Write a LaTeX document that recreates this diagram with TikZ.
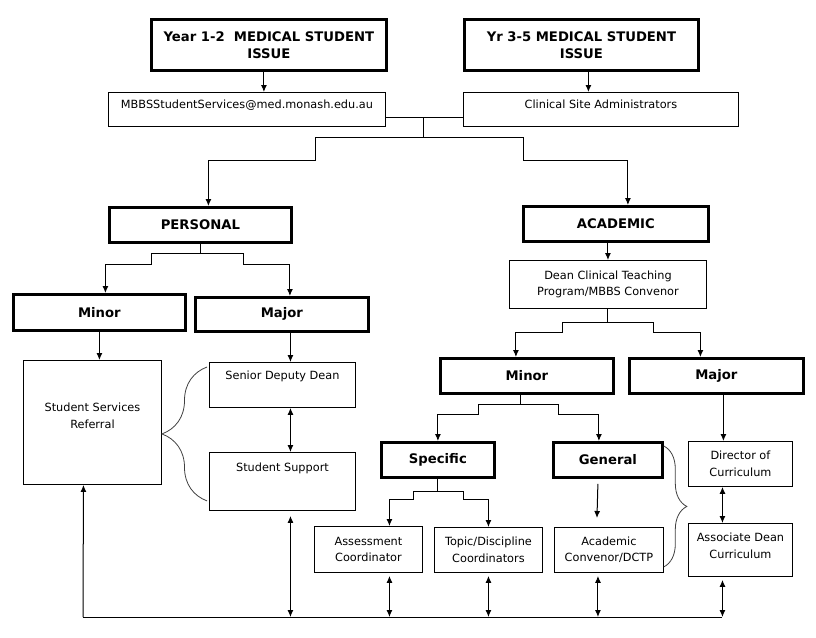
\documentclass[tikz,border=0pt]{standalone}
\usepackage{fontspec}
\setmainfont{DejaVu Sans}
\usetikzlibrary{arrows.meta, positioning, calc, decorations.pathreplacing}
\tikzset{
headbox/.style={
draw=black,
line width=2.8pt,
fill=white,
anchor=north west,
align=center,
inner sep=2pt,
font=\bfseries\fontsize{13.2}{17}\selectfont
},
cell/.style={
draw=black,
line width=0.9pt,
anchor=north west,
align=center,
inner xsep=2pt,
inner ysep=3pt,
font=\fontsize{11.3}{16.5}\selectfont
},
topcell/.style 2 args={
cell,
text height=#1,
text depth=#2
},
arrow/.style={
-{Latex[length=7pt,width=6pt]},
line width=1pt
},
darrow/.style={
{Latex[length=7pt,width=6pt]}-{Latex[length=7pt,width=6pt]},
line width=1pt
},
link/.style={
line width=1pt
},
curly/.style={
decorate,
decoration={brace, amplitude=#1},
line width=0.8pt,
draw=black!75
}
}

\begin{document}
\begin{tikzpicture}[x=1pt,y=-1pt]
\useasboundingbox (0,0) rectangle (816,637);

% entry points
\node[headbox, minimum width=235pt, minimum height=51pt] (yr12) at (150,18) {Year 1-2\ \ MEDICAL STUDENT\\ISSUE};
\node[headbox, minimum width=234pt, minimum height=51pt] (yr35) at (463,18) {Yr 3-5 MEDICAL STUDENT\\ISSUE};
\node[topcell={13pt}{15pt}, minimum width=277pt] (email) at (108,92) {MBBSStudentServices@med.monash.edu.au};
\node[topcell={13pt}{15pt}, minimum width=275pt] (clinic) at (463,92) {Clinical Site Administrators};

% personal side
\node[headbox, minimum width=182pt, minimum height=35pt] (personal) at (108,206) {PERSONAL};
\node[headbox, minimum width=172pt, minimum height=36pt] (pminor) at (12,293) {Minor};
\node[headbox, minimum width=173pt, minimum height=34pt] (pmajor) at (194,296) {Major};
\node[topcell={65pt}{53pt}, minimum width=138pt] (referral) at (23,360) {Student Services\\Referral};
\node[topcell={14pt}{25pt}, minimum width=146pt] (deputy) at (209,362) {Senior Deputy Dean};
\node[topcell={16pt}{36pt}, minimum width=146pt] (support) at (209,452) {Student Support};

% academic side
\node[headbox, minimum width=185pt, minimum height=35pt] (academic) at (522,205) {ACADEMIC};
\node[cell, minimum width=197pt, minimum height=48pt] (dean) at (509,260) {Dean Clinical Teaching\\Program/MBBS Convenor};
\node[headbox, minimum width=173pt, minimum height=35pt] (aminor) at (439,357) {Minor};
\node[headbox, minimum width=174pt, minimum height=35pt] (amajor) at (628,357) {Major};
\node[headbox, minimum width=113pt, minimum height=35pt] (specific) at (380,441) {Specific};
\node[headbox, minimum width=109pt, minimum height=35pt] (general) at (552,441) {General};
\node[cell, minimum width=108pt, minimum height=46pt] (assess) at (314,526) {Assessment\\Coordinator};
\node[cell, minimum width=108pt, minimum height=45pt] (topic) at (434,527) {Topic/Discipline\\Coordinators};
\node[cell, minimum width=109pt, minimum height=45pt] (convenor) at (554,527) {Academic\\Convenor/DCTP};
\node[cell, minimum width=104pt, minimum height=45pt] (director) at (688,441) {Director of\\Curriculum};
\node[topcell={32pt}{15pt}, minimum width=104pt] (assoc) at (688,523) {Associate Dean\\Curriculum};

% top connectors
\draw[arrow] ([xshift=-5pt]yr12.south) -- ([xshift=-5pt]yr12.south |- email.north);
\draw[arrow] ([xshift=7pt]yr35.south) -- ([xshift=7pt]yr35.south |- clinic.north);
\coordinate (join) at (423,137);
\draw[link] ([yshift=-8pt]email.east) -- ([yshift=-8pt]clinic.west);
\draw[link] ([yshift=-8pt]join |- email.east) -- (join);
\draw[arrow] (join) -| (315,160) -| ([xshift=8pt]personal.north);
\draw[arrow] (join) -| (523,160) -| ([xshift=12pt]academic.north);

% personal connectors
\draw[arrow] (personal.south) -- ++(0,10) -| (151,264) -| ([xshift=6pt]pminor.north);
\draw[arrow] (personal.south) -- ++(0,10) -| (243,264) -| ([xshift=8pt]pmajor.north);
\draw[arrow] (pminor.south) -- (pminor.south |- referral.north);
\draw[arrow] ([xshift=8pt]deputy.north |- pmajor.south) -- ([xshift=8pt]deputy.north);
\draw[darrow] ([xshift=8pt]deputy.south) -- ([xshift=8pt]support.north);
\draw[curly=45pt] ([xshift=-2pt,yshift=10pt]support.south west) -- ([xshift=-2pt,yshift=-5pt]deputy.north west);

% academic connectors
\draw[arrow] (academic.south -| dean.north) -- (dean.north);
\draw[arrow] (dean.south) -- ++(0,14) -| (562,332) -| ([xshift=-11pt]aminor.north);
\draw[arrow] (dean.south) -- ++(0,14) -| (653,332) -| ([xshift=-16pt]amajor.north);
\draw[arrow] ([xshift=-6pt]aminor.south) -- ++(0,10) -| (478,414) -| (specific.north);
\draw[arrow] ([xshift=-6pt]aminor.south) -- ++(0,10) -| (558,414) -| ([xshift=-9pt]general.north);
\draw[arrow] (specific.south) -- ++(0,13) -| (413,499) -| ([xshift=21pt]assess.north);
\draw[arrow] (specific.south) -- ++(0,13) -| (463,499) -| (topic.north);
\draw[arrow] ([xshift=-10pt,yshift=-5pt]general.south) -- ([xshift=-12pt,yshift=9pt]convenor.north);
\draw[curly=23pt] ([yshift=-5pt]general.north east) -- ([yshift=6pt]general.east |- convenor.south);
\draw[arrow] ([xshift=7pt]amajor.south) -- ([xshift=7pt]amajor.south |- director.north);
\draw[darrow] ([xshift=-18pt]director.south) -- ([xshift=-18pt]assoc.north);

% feedback line
\coordinate (base) at (83,617);
\draw[link] (base) -- ([xshift=-18pt]assoc.south |- base);
\draw[arrow] (base) -- ([xshift=-9pt]referral.south);
\foreach \nd/\dx/\gap in {support/8/5, assess/21/3, topic/0/3, convenor/-11/3, assoc/-18/3}
  \draw[darrow] ([xshift=\dx pt, yshift=-\gap pt]\nd.south) -- ([xshift=\dx pt]\nd.south |- base);

\end{tikzpicture}
\end{document}
